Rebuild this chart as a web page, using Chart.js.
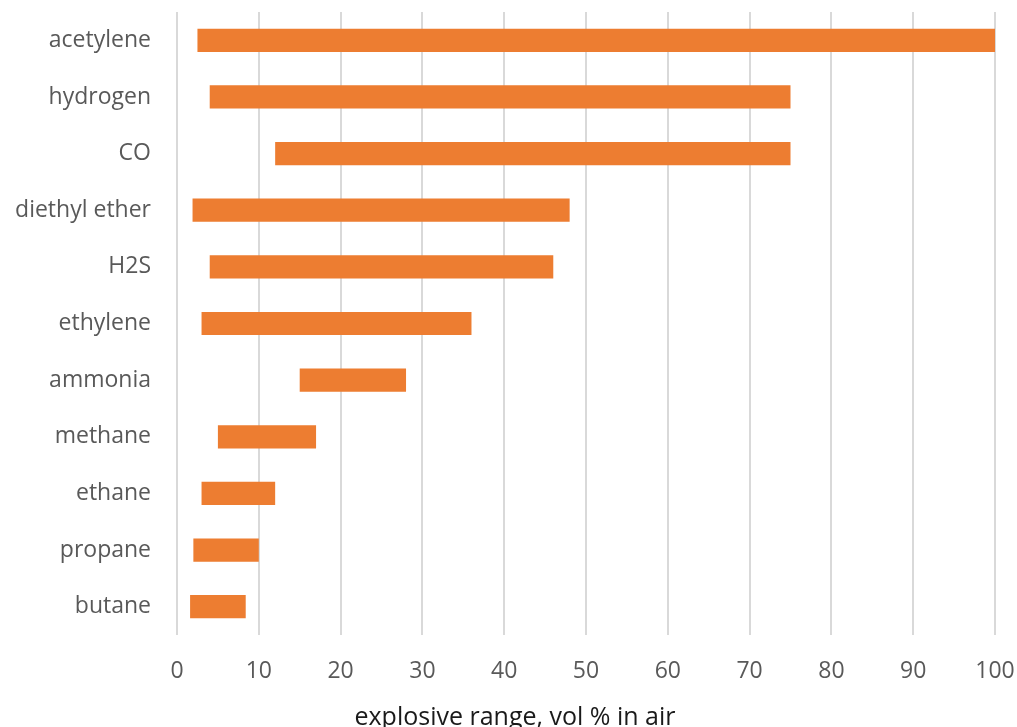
<!DOCTYPE html>
<html>
<head>
<meta charset="utf-8">
<script src="https://cdn.jsdelivr.net/npm/chart.js@4"></script>
<style>
  body { margin: 0; background: #fff; }
  #wrap { width: 1017px; height: 727px; }
</style>
</head>
<body>
<div id="wrap"><canvas id="chart" width="1017" height="727"></canvas></div>
<script>
// explosive limits in air (vol %), lower and upper
var gases = ['acetylene', 'hydrogen', 'CO', 'diethyl ether', 'H2S', 'ethylene',
             'ammonia', 'methane', 'ethane', 'propane', 'butane'];
var lowerLimit = [2.5, 4, 12, 1.9, 4, 3, 15, 5, 3, 2, 1.6];
var upperLimit = [100, 75, 75, 48, 46, 36, 28, 17, 12, 10, 8.4];
var xTicks = [0, 10, 20, 30, 40, 50, 60, 70, 80, 90, 100];
var axisTitle = 'explosive range, vol % in air';

var FONT = '"Open Sans", Lato, sans-serif';

// axis title is centred under the whole figure, not the plot area
var bottomTitle = {
    id: 'bottomTitle',
    afterDraw: function (chart) {
        var ctx = chart.ctx;
        ctx.save();
        ctx.font = '25px ' + FONT;
        ctx.fillStyle = '#1a1a1a';
        ctx.textAlign = 'center';
        ctx.textBaseline = 'alphabetic';
        ctx.fillText(axisTitle, 515, 725);
        ctx.restore();
    }
};

new Chart(document.getElementById('chart'), {
    type: 'bar',
    data: {
        labels: gases,
        datasets: [{
            label: 'explosive range',
            data: gases.map(function (g, i) { return [lowerLimit[i], upperLimit[i]]; }),
            backgroundColor: '#ED7D31',
            borderWidth: 0,
            borderSkipped: false,
            barPercentage: 0.41,
            categoryPercentage: 1.0
        }]
    },
    options: {
        indexAxis: 'y',
        responsive: false,
        animation: false,
        layout: { padding: { top: 12, right: 22, left: 0, bottom: 0 } },
        plugins: {
            legend: { display: false },
            tooltip: { enabled: false }
        },
        scales: {
            x: {
                min: 0,
                max: 100,
                afterBuildTicks: function (scale) {
                    scale.ticks = xTicks.map(function (v) { return { value: v }; });
                },
                grid: { color: '#d9d9d9', lineWidth: 2, drawTicks: false },
                border: { display: false },
                ticks: {
                    padding: 23,
                    color: '#595959',
                    font: { family: FONT, size: 23 }
                },
                afterFit: function (scale) {
                    scale.height = 92;
                    scale.paddingLeft = 0;
                    scale.paddingRight = 0;
                }
            },
            y: {
                grid: { display: false },
                border: { display: false },
                ticks: {
                    padding: 18,
                    color: '#595959',
                    font: { family: FONT, size: 23 }
                },
                afterFit: function (scale) {
                    scale.width = 177;
                    scale.paddingTop = 0;
                    scale.paddingBottom = 0;
                }
            }
        }
    },
    plugins: [bottomTitle]
});
</script>
</body>
</html>
